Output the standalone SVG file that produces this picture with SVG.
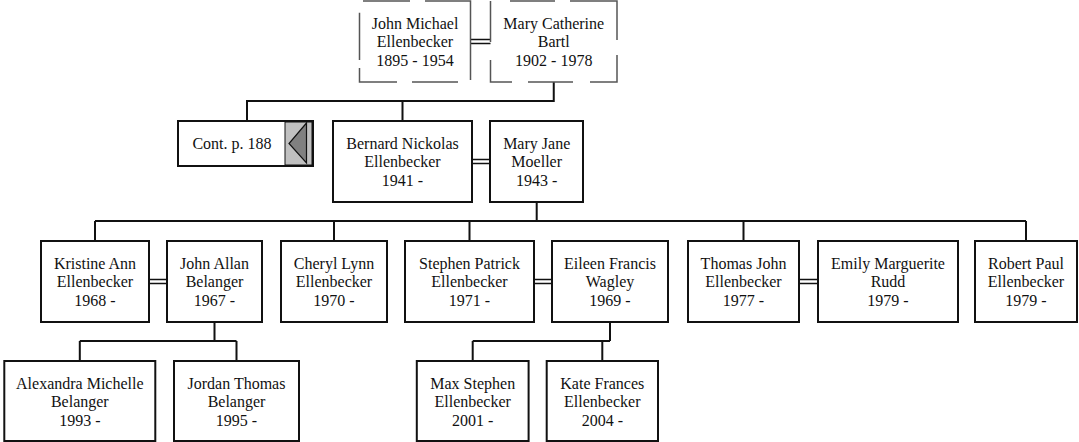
<svg xmlns="http://www.w3.org/2000/svg" width="1079" height="442" viewBox="0 0 1079 442">
<style>
.box{fill:#fff;stroke:#111;stroke-width:2}
.dash{fill:none;stroke:#555;stroke-width:1.5}
text{font-family:'Liberation Serif','Times New Roman',Tinos,'DejaVu Serif','Noto Serif',serif;font-size:16px;fill:#111;text-anchor:middle}
.c{fill:none;stroke:#111;stroke-width:2}
.m{fill:none;stroke:#111;stroke-width:1.3}
</style>
<rect width="1079" height="442" fill="#fff"/>
<g id="connectors">
<path class="c" d="M553.75,82V101H247V121M402.5,101V121"/>
<path class="m" d="M470.5,39.5H490.5M470.5,43.5H490.5"/>
<path class="m" d="M472,159.5H490M472,163.5H490"/>
<path class="c" d="M536.7,202V221M95,221H1026M95,221V241M334,221V241M469.5,221V241M743.5,221V241M1026,221V241"/>
<path class="m" d="M149,279.5H167M149,283.5H167M534,279.5H552M534,283.5H552M799,279.5H818M799,283.5H818"/>
<path class="c" d="M214.5,322V341M79.8,341H236.5M79.8,341V361M236.5,341V361"/>
<path class="c" d="M610,322V341M472.7,341H610M472.7,341V361M602.3,341V361"/>
</g>
<g id="n-john-michael">
<path class="dash" d="M363,1H410M425,1H470.5V80M458,82H412M397,82H359.5V68M359.5,60V12.7"/>
<text x="415" y="28.5" font-family="Liberation Serif, serif">John Michael</text>
<text x="415" y="47" font-family="Liberation Serif, serif">Ellenbecker</text>
<text x="415" y="65.5" font-family="Liberation Serif, serif">1895 - 1954</text>
</g>
<g id="n-mary-catherine">
<path class="dash" d="M510,1H555M570,1H617V40M617,55V82H590M573,82H528M512,82H490.5V60M490.5,42V1"/>
<text x="553.75" y="28.5">Mary Catherine</text>
<text x="553.75" y="47">Bartl</text>
<text x="553.75" y="65.5">1902 - 1978</text>
</g>
<g id="n-cont">
<rect class="box" x="178" y="121" width="135" height="45"/>
<rect x="285" y="122" width="27" height="43" fill="#c0c0c0" stroke="#111" stroke-width="1"/>
<polygon points="306.5,123 289,143.5 306.5,163" fill="#808080" stroke="#111" stroke-width="1.2"/>
<text x="232" y="149">Cont. p. 188</text>
</g>
<g id="n-bernard">
<rect class="box" x="333" y="121" width="139" height="81"/>
<text x="402.5" y="148.5">Bernard Nickolas</text>
<text x="402.5" y="167">Ellenbecker</text>
<text x="402.5" y="185.5">1941 -</text>
</g>
<g id="n-mary-jane">
<rect class="box" x="490" y="121" width="93" height="81"/>
<text x="536.7" y="148.5">Mary Jane</text>
<text x="536.7" y="167">Moeller</text>
<text x="536.7" y="185.5">1943 -</text>
</g>
<g id="n-kristine">
<rect class="box" x="41" y="241" width="108" height="81"/>
<text x="95" y="268.5">Kristine Ann</text>
<text x="95" y="287">Ellenbecker</text>
<text x="95" y="305.5">1968 -</text>
</g>
<g id="n-john-allan">
<rect class="box" x="167" y="241" width="95" height="81"/>
<text x="214.5" y="268.5">John Allan</text>
<text x="214.5" y="287">Belanger</text>
<text x="214.5" y="305.5">1967 -</text>
</g>
<g id="n-cheryl">
<rect class="box" x="281" y="241" width="106" height="81"/>
<text x="334" y="268.5">Cheryl Lynn</text>
<text x="334" y="287">Ellenbecker</text>
<text x="334" y="305.5">1970 -</text>
</g>
<g id="n-stephen">
<rect class="box" x="405" y="241" width="129" height="81"/>
<text x="469.5" y="268.5">Stephen Patrick</text>
<text x="469.5" y="287">Ellenbecker</text>
<text x="469.5" y="305.5">1971 -</text>
</g>
<g id="n-eileen">
<rect class="box" x="552" y="241" width="116" height="81"/>
<text x="610" y="268.5">Eileen Francis</text>
<text x="610" y="287">Wagley</text>
<text x="610" y="305.5">1969 -</text>
</g>
<g id="n-thomas">
<rect class="box" x="688" y="241" width="111" height="81"/>
<text x="743.5" y="268.5">Thomas John</text>
<text x="743.5" y="287">Ellenbecker</text>
<text x="743.5" y="305.5">1977 -</text>
</g>
<g id="n-emily">
<rect class="box" x="818" y="241" width="140" height="81"/>
<text x="888" y="268.5">Emily Marguerite</text>
<text x="888" y="287">Rudd</text>
<text x="888" y="305.5">1979 -</text>
</g>
<g id="n-robert">
<rect class="box" x="975" y="241" width="102" height="81"/>
<text x="1026" y="268.5">Robert Paul</text>
<text x="1026" y="287">Ellenbecker</text>
<text x="1026" y="305.5">1979 -</text>
</g>
<g id="n-alexandra">
<rect class="box" x="4.3" y="361" width="151" height="80"/>
<text x="79.8" y="388.5">Alexandra Michelle</text>
<text x="79.8" y="407">Belanger</text>
<text x="79.8" y="425.5">1993 -</text>
</g>
<g id="n-jordan">
<rect class="box" x="174" y="361" width="125" height="80"/>
<text x="236.5" y="388.5">Jordan Thomas</text>
<text x="236.5" y="407">Belanger</text>
<text x="236.5" y="425.5">1995 -</text>
</g>
<g id="n-max">
<rect class="box" x="416.8" y="361" width="111.8" height="80"/>
<text x="472.7" y="388.5">Max Stephen</text>
<text x="472.7" y="407">Ellenbecker</text>
<text x="472.7" y="425.5">2001 -</text>
</g>
<g id="n-kate">
<rect class="box" x="546.7" y="361" width="111.3" height="80"/>
<text x="602.3" y="388.5">Kate Frances</text>
<text x="602.3" y="407">Ellenbecker</text>
<text x="602.3" y="425.5">2004 -</text>
</g>
</svg>
